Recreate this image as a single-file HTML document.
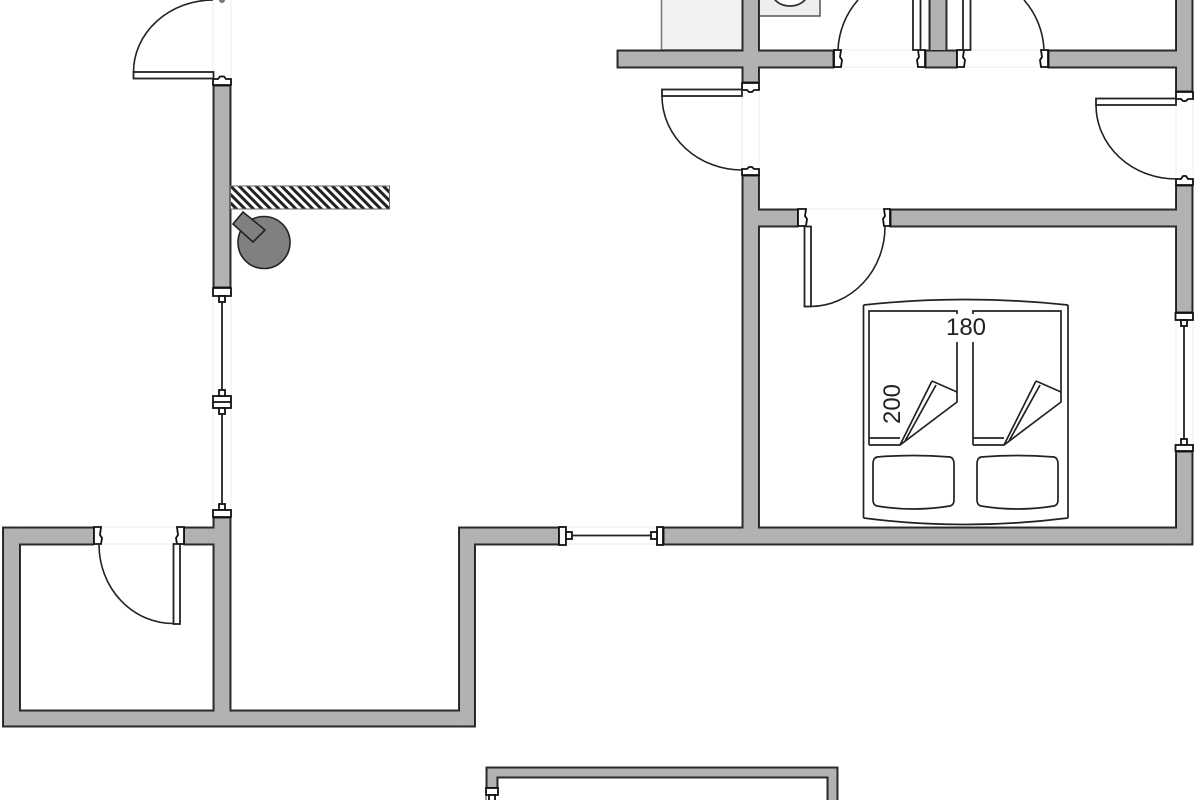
<!DOCTYPE html>
<html>
<head>
<meta charset="utf-8">
<style>
html,body{margin:0;padding:0;background:#fff;width:1200px;height:800px;overflow:hidden}
svg{display:block;filter:blur(.35px)}
text{font-family:"Liberation Sans",sans-serif;fill:#222}
</style>
</head>
<body>
<svg width="1200" height="800" viewBox="0 0 1200 800" xmlns="http://www.w3.org/2000/svg">
<defs>
<pattern id="h" width="6" height="6" patternUnits="userSpaceOnUse" patternTransform="rotate(-45)">
<rect width="6" height="6" fill="#fff"/><rect width="3" height="6" fill="#222"/>
</pattern>
</defs>
<rect width="1200" height="800" fill="#fff"/>

<!-- appliances -->
<rect x="661.500" y="-3" width="81" height="53" fill="#f1f1f1" stroke="#777" stroke-width="1.500"/>
<rect x="759" y="-3" width="61" height="19" fill="#eeeeee" stroke="#555" stroke-width="1.500"/>
<ellipse cx="790" cy="-8" rx="18" ry="14" fill="#fff" stroke="#333" stroke-width="1.800"/>

<!-- opening guide lines -->
<g stroke="#ededed" stroke-width="1" fill="none">
<path d="M213 0V78M231 0V78M213 296V510M231 296V510"/>
<path d="M100 527H178M100 544H178"/>
<path d="M566 527H657M566 544H657"/>
<path d="M842 50H1041M842 67H1041"/>
<path d="M742 91V168M759 91V168M1176 100V175M1193 100V175"/>
<path d="M807 209H883"/>
<path d="M1176 320V445M1193 320V445"/>
</g>

<!-- wall outlines -->
<g fill="#222" stroke="#333" stroke-width="1">
<rect x="213" y="85" width="18" height="203"/>
<rect x="213" y="517" width="18" height="210"/>
<rect x="2.500" y="527" width="91" height="18"/>
<rect x="184" y="527" width="30" height="18"/>
<rect x="2.500" y="527" width="18" height="200"/>
<rect x="2.500" y="710" width="473" height="17"/>
<rect x="458.500" y="527" width="17" height="200"/>
<rect x="458.500" y="527" width="101" height="18"/>
<rect x="663" y="527" width="530" height="18"/>
<rect x="742" y="175" width="17.500" height="360"/>
<rect x="742" y="-3" width="17.500" height="86"/>
<rect x="617" y="50" width="217" height="18"/>
<rect x="925" y="50" width="32" height="18"/>
<rect x="1048" y="50" width="145" height="18"/>
<rect x="1175.500" y="-3" width="17.500" height="95"/>
<rect x="1175.500" y="185" width="17.500" height="128"/>
<rect x="1175.500" y="451" width="17.500" height="94"/>
<rect x="745" y="209" width="53" height="18"/>
<rect x="890" y="209" width="300" height="18"/>
<rect x="929" y="-3" width="18" height="53"/>
<path d="M486 800V767H838V800H827V778H498V788H486Z"/>
</g>
<!-- wall fill -->
<g fill="#b2b2b2">
<rect x="214.500" y="86.500" width="15" height="200"/>
<rect x="214.500" y="518.500" width="15" height="207"/>
<rect x="4" y="528.500" width="89" height="15"/>
<rect x="185" y="528.500" width="30" height="15"/>
<rect x="4" y="528.500" width="15" height="197"/>
<rect x="4" y="711.500" width="470" height="14"/>
<rect x="460" y="528.500" width="14" height="197"/>
<rect x="460" y="528.500" width="98" height="15"/>
<rect x="664.500" y="528.500" width="527" height="15"/>
<rect x="743.500" y="176.500" width="14.500" height="367"/>
<rect x="743.500" y="-3" width="14.500" height="84.500"/>
<rect x="618.500" y="51.500" width="214" height="15"/>
<rect x="926.500" y="51.500" width="29.500" height="15"/>
<rect x="1049.500" y="51.500" width="142" height="15"/>
<rect x="1177" y="-3" width="14.500" height="93.500"/>
<rect x="1177" y="186.500" width="14.500" height="125"/>
<rect x="1177" y="452.500" width="14.500" height="91"/>
<rect x="750" y="210.500" width="47" height="15"/>
<rect x="891.500" y="210.500" width="298" height="15"/>
<rect x="930.500" y="-3" width="15" height="53"/>
<path d="M487.500 800V768.500H836.500V800H828.500V776.500H496.500V787H487.500Z"/>
</g>

<!-- jambs and knobs -->
<g fill="#fff" stroke="#111" stroke-width="1.800">
<path d="M213 85V79H218L220 76.500H224L226 79H231V85Z"/>
<path d="M213 288V296H231V288Z"/>
<rect x="219" y="296" width="6" height="6"/>
<rect x="213" y="396" width="18" height="12"/>
<path d="M213 402H231"/>
<rect x="219" y="390" width="6" height="6"/>
<rect x="219" y="408" width="6" height="6"/>
<rect x="219" y="504" width="6" height="6"/>
<rect x="213" y="510" width="18" height="7"/>
<path d="M94 527V544H101L102 538 100 535 101 527Z"/>
<path d="M184 527V544H177L176 538 178 535 177 527Z"/>
<rect x="559" y="527" width="7" height="18"/>
<rect x="566" y="532" width="6" height="7"/>
<rect x="657" y="527" width="6" height="18"/>
<rect x="651" y="532" width="6" height="7"/>
<path d="M834 50V67H841L842 60 840 57 841 50Z"/>
<path d="M925 50V67H918L917 60 919 57 918 50Z"/>
<path d="M957 50V67H964L965 60 963 57 964 50Z"/>
<path d="M1048 50V67H1041L1040 60 1042 57 1041 50Z"/>
<path d="M742 83V90H747L749 92H752L754 90H759V83Z"/>
<path d="M742 175V169H747L749 167H752L754 169H759V175Z"/>
<path d="M1176 92V99H1181L1183 101H1186L1188 99H1193V92Z"/>
<path d="M1176 185V179H1181L1183 176H1186L1188 179H1193V185Z"/>
<path d="M798 209V226H806L807 219 805 216 806 209Z"/>
<path d="M890 209V226H884L883 219 885 216 884 209Z"/>
<rect x="1175.500" y="313" width="17.500" height="7"/>
<rect x="1181" y="320" width="6" height="6"/>
<rect x="1181" y="439" width="6" height="6"/>
<rect x="1175.500" y="445" width="17.500" height="6"/>
<rect x="486" y="788" width="12" height="7"/>
<rect x="489" y="795" width="6" height="7"/>
<circle cx="222" cy="0" r="3" fill="#777" stroke="none"/>
</g>

<!-- window panes -->
<g stroke="#222" stroke-width="1.800" fill="none">
<path d="M222 302V390M222 414V504"/>
<path d="M572 535.500H651"/>
<path d="M1184 326V439"/>
</g>

<!-- door leaves -->
<g fill="#fff" stroke="#222" stroke-width="1.800">
<rect x="133.500" y="72" width="80" height="6.500"/>
<rect x="173.500" y="544" width="6.500" height="80"/>
<rect x="662" y="89.500" width="80" height="6.500"/>
<rect x="1096" y="98.500" width="80" height="6.500"/>
<rect x="804.500" y="226.500" width="6.500" height="80"/>
<rect x="913" y="-3" width="7.500" height="53"/>
<rect x="963" y="-3" width="7.500" height="53"/>
</g>
<!-- door arcs -->
<g fill="none" stroke="#222" stroke-width="1.600">
<path d="M133.500 72A80 72 0 0 1 213 0"/>
<path d="M99 545A74 79 0 0 0 173.500 623.500"/>
<path d="M662 96A80 74 0 0 0 742 170"/>
<path d="M1096 105A80 74 0 0 0 1176 179"/>
<path d="M885 227A75 80 0 0 1 811 306.500"/>
<path d="M838 50A80 80 0 0 1 858 0"/>
<path d="M1044 50A80 80 0 0 0 1024 0"/>
</g>

<!-- counter and stove -->
<rect x="230.500" y="186" width="159" height="23" fill="url(#h)" stroke="#666" stroke-width="1"/>
<circle cx="264" cy="242.500" r="26" fill="#808080" stroke="#222" stroke-width="1.600"/>
<path d="M243 212L265 230 253 242 233 224Z" fill="#808080" stroke="#222" stroke-width="1.600"/>

<!-- bed -->
<g fill="none" stroke="#222" stroke-width="1.700">
<path d="M863.500 305Q965 294 1068 305"/>
<path d="M863.500 518Q965 531 1068 518"/>
<path d="M863.500 305V518M1068 305V518"/>
<path d="M869 445V311H957V402L900 445H869"/>
<path d="M869 438H900"/>
<path d="M932 381L957 392M932 381L900 445M936 385L905 441"/>
<path d="M973 445V311H1061V402L1004 445H973"/>
<path d="M973 438H1004"/>
<path d="M1036 381L1061 392M1036 381L1004 445M1040 385L1009 441"/>
<path d="M877 457Q913 454 950 457Q954 458 954 464V500Q954 505 950 506Q913 512 877 506Q873 505 873 500V464Q873 458 877 457Z"/>
<path d="M981 457Q1017 454 1054 457Q1058 458 1058 464V500Q1058 505 1054 506Q1017 512 981 506Q977 505 977 500V464Q977 458 981 457Z"/>
</g>
<rect x="946" y="314" width="40" height="28" fill="#fff"/>
<text x="966" y="335" font-size="24" text-anchor="middle">180</text>
<text transform="translate(900,404) rotate(-90)" font-size="24" text-anchor="middle">200</text>
</svg>
</body>
</html>
